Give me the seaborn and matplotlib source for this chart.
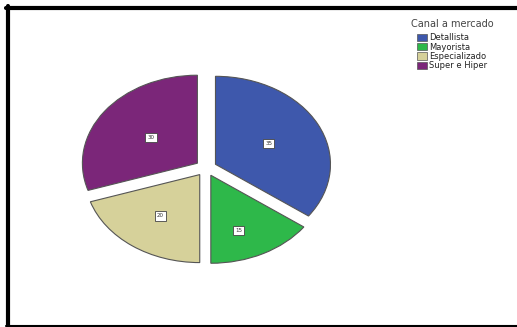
import matplotlib
matplotlib.use("Agg")
import matplotlib.pyplot as plt
import seaborn as sns
import numpy as np
from matplotlib.patches import Patch

sns.set_theme(style="white")
plt.rcParams['font.family'] = ['DejaVu Sans']

categories = ["Detallista", "Mayorista", "Especializado", "Super e Hiper"]
values = [35, 15, 20, 30]
colors = ["#3E58AC", "#2EB84A", "#D6D19A", "#7B2679"]
legend_title = "Canal a mercado"

W, H = 517, 327
fig = plt.figure(figsize=(W / 100, H / 100), dpi=100)
fig.patch.set_facecolor("white")

# pie axes (ellipse: rx=115px, ry=88px, center (206,168) in top-origin px)
cx, cy, rx, ry = 206, 168, 115, 88
lim = 1.25
aw, ah = 2 * rx * lim, 2 * ry * lim
ax = fig.add_axes([(cx - aw / 2) / W, (H - cy - ah / 2) / H, aw / W, ah / H])

explode = 0.0925
wedges, texts, autotexts = ax.pie(
    values, colors=colors, startangle=90, counterclock=False,
    explode=[explode] * 4, autopct=lambda p: f"{p:.0f}", pctdistance=0.55,
    wedgeprops=dict(edgecolor="#555555", linewidth=0.8),
    textprops=dict(fontsize=4, color="#333333"))
label_dist = [0.52, 0.67, 0.58, 0.50]
label_ang_shift = [0, -6, 0, 0]
for w, t, d, s in zip(wedges, autotexts, label_dist, label_ang_shift):
    mid = np.deg2rad((w.theta1 + w.theta2) / 2)
    ang = mid + np.deg2rad(s)
    t.set_position((explode * np.cos(mid) + d * np.cos(ang),
                    explode * np.sin(mid) + d * np.sin(ang)))
    t.set_bbox(dict(boxstyle="square,pad=0.4", facecolor="white",
                    edgecolor="#444444", linewidth=0.6))
ax.set_aspect("auto")
ax.set_xlim(-lim, lim)
ax.set_ylim(-lim, lim)
ax.axis("off")

# legend
handles = [Patch(facecolor=c, edgecolor="#555555", linewidth=0.5) for c in colors]
leg = fig.legend(handles, categories, title=legend_title,
                 loc="upper left", bbox_to_anchor=(411 / W, 1 - 19 / H),
                 frameon=False, fontsize=6, title_fontsize=7,
                 handlelength=1.1, handleheight=1.0, handletextpad=0.3,
                 labelspacing=0.05, borderaxespad=0, borderpad=0)
leg.get_title().set_color("#444444")
leg._legend_box.sep = 3
for t in leg.get_texts():
    t.set_color("#222222")

# frame border lines
fig.add_artist(plt.Line2D([8 / W, 8 / W], [1 - 6 / H, 1 - 326 / H], color="black", linewidth=3))
fig.add_artist(plt.Line2D([6 / W, 1.0], [1 - 8 / H, 1 - 8 / H], color="black", linewidth=3))
fig.add_artist(plt.Line2D([6 / W, 1.0], [1 - 325.5 / H, 1 - 325.5 / H], color="black", linewidth=1.5))

fig.savefig("out.png", dpi=100, facecolor="white")
